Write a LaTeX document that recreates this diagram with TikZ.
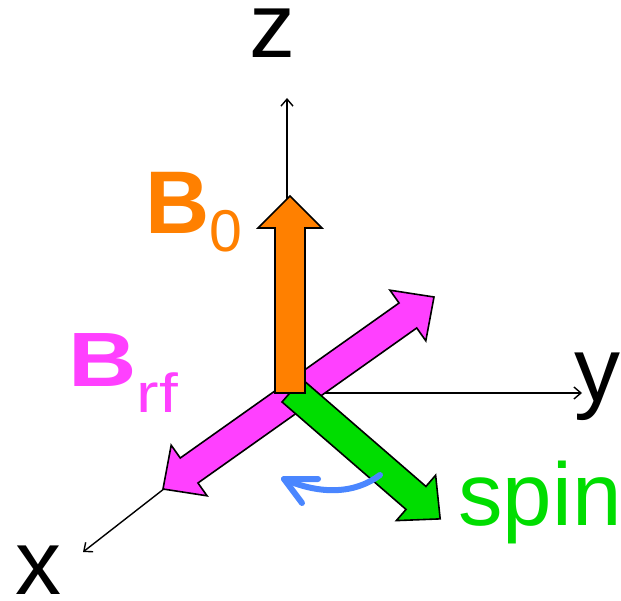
\documentclass[tikz,border=0pt]{standalone}
\usepackage{fontspec}
\usepackage{graphicx}
\setmainfont{Liberation Sans}
\usetikzlibrary{arrows.meta}
\definecolor{borange}{RGB}{255,128,0}
\definecolor{bmag}{RGB}{255,64,255}
\definecolor{bgreen}{RGB}{0,221,0}
\definecolor{bblue}{RGB}{74,134,255}
\begin{document}
\begin{tikzpicture}[x=1pt,y=-1pt,
  axis/.style={line width=1.4pt, -{Straight Barb[length=7pt,width=12pt]}},
  bigarrow/.style={draw=black, line width=1.6pt, line join=miter},
  rotarrow/.style={draw=bblue, line width=6pt, line cap=round, line join=round},
  lbl/.style={inner sep=0pt, anchor=base},
  axlbl/.style={lbl, text height=50pt, text depth=0pt}]
\useasboundingbox (0,0) rectangle (621,601);
% axes
\coordinate (O) at (287,393);
\coordinate (zt) at (287,98);
\coordinate (yt) at (582,393);
\coordinate (xt) at (83,552);
\draw[axis] (O) -- (zt);
\draw[axis] (O) -- (yt);
\draw[axis] (O) -- (xt);
% B_rf double arrow
\filldraw[bigarrow, fill=bmag] (163,489) -- (207.03,495.80) -- (197.96,482.98) -- (416.74,327.98) -- (425.81,340.80) -- (434,297) -- (389.97,290.20) -- (399.04,303.02) -- (180.26,458.02) -- (171.19,445.20) -- cycle;
% spin arrow
\filldraw[bigarrow, fill=bgreen] (282.04,401.99) -- (406.02,509.41) -- (396.33,520.60) -- (440.18,518.88) -- (435.63,475.24) -- (425.94,486.43) -- (301.96,379.01) -- cycle;
% B0 arrow
\filldraw[bigarrow, fill=borange] (275,393) -- (275,228) -- (258,228) -- (290,196) -- (322,228) -- (305,228) -- (305,393) -- cycle;
% rotation arrow
\coordinate (r0) at (380,475);
\coordinate (r1) at (284,479);
\draw[rotarrow] (r0) .. controls (355,494) and (320,495) .. (r1);
\draw[rotarrow] (318,479) -- (r1) -- (302,503);
% labels
\node[axlbl] (zl) at (272,58) {\fontsize{92}{92}\selectfont z};
\node[lbl] (yl) at (597,401) {\fontsize{92}{92}\selectfont y};
\node[axlbl] (xl) at (38.5,594) {\fontsize{92}{92}\selectfont x};
\node[lbl, anchor=base west, text=borange] (b0) at (145.5,234) {\fontsize{89}{89}\selectfont\bfseries B\fontsize{59}{59}\selectfont\mdseries\raisebox{-18pt}{0}};
\node[lbl, anchor=base west, text=bmag] (brf) at (68,387) {\scalebox{1.23}[1]{\fontsize{77}{77}\selectfont\bfseries B\mdseries\fontsize{55}{55}\selectfont\raisebox{-26pt}{rf}}};
\node[lbl, text=bgreen] (sp) at (540,525) {\fontsize{89}{89}\selectfont spin};
\end{tikzpicture}
\end{document}
